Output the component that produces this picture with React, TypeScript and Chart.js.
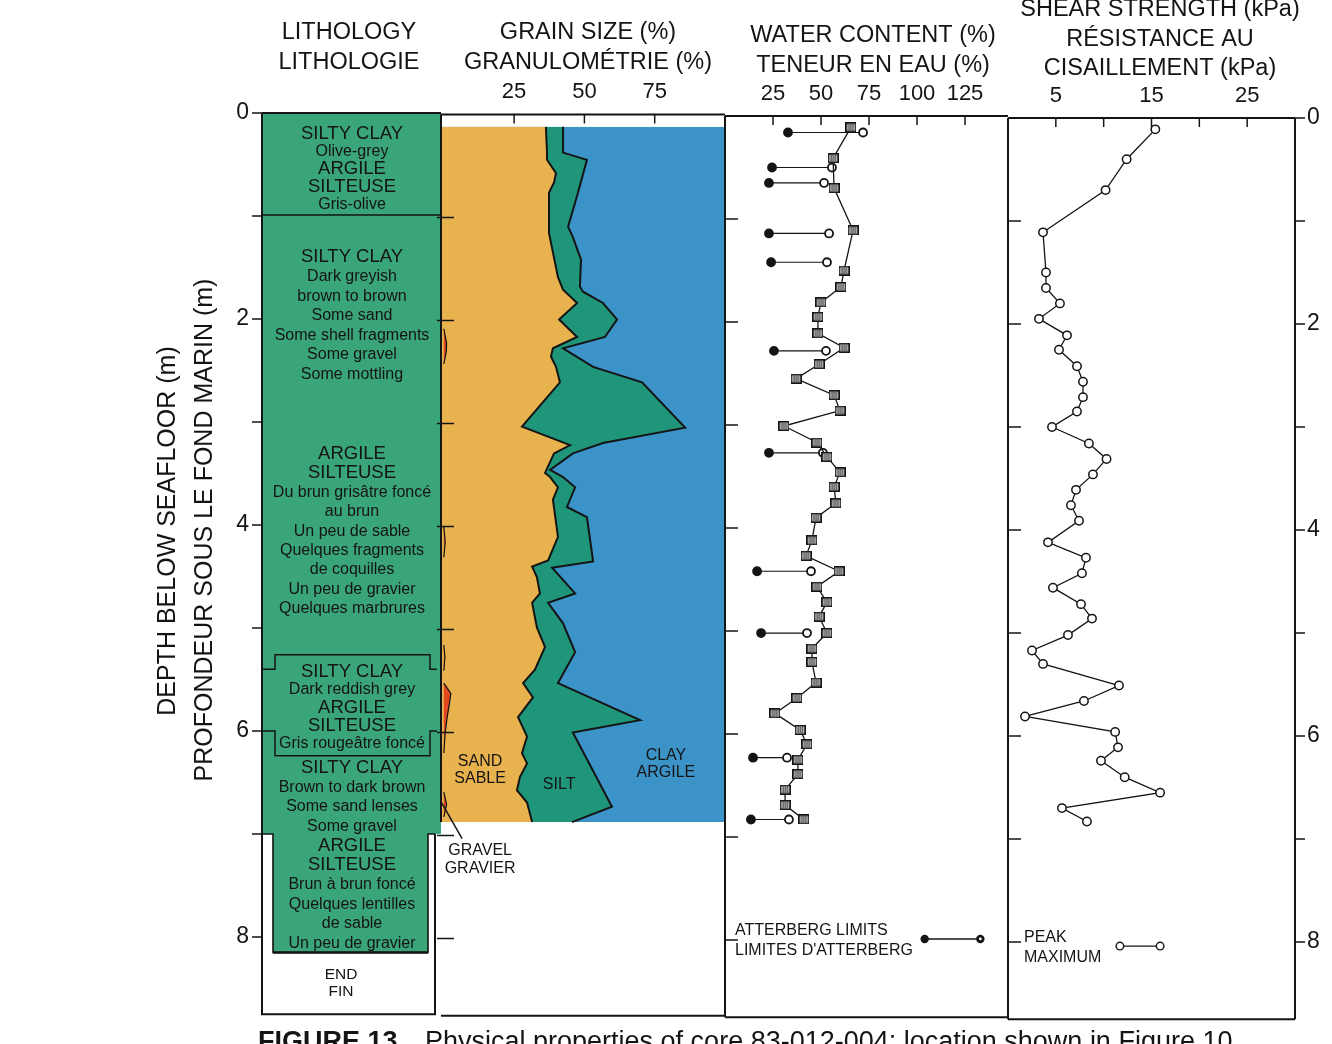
import React, { useEffect, useRef } from 'react';
import { Chart, registerables } from 'chart.js';

Chart.register(...registerables);

const W = 1332;
const H = 1044;
const FONT = '"Liberation Sans", Arial, Helvetica, sans-serif';
const INK = '#141414';

// ---------- depth axis ----------
const DEPTH_MAX = 8.75;
const depthTicks = [0, 1, 2, 3, 4, 5, 6, 7, 8];
const depthLabels = [0, 2, 4, 6, 8];
const depthTitle = ['DEPTH BELOW SEAFLOOR (m)', 'PROFONDEUR SOUS LE FOND MARIN (m)'];

// ---------- lithology ----------
const lithoHeader = ['LITHOLOGY', 'LITHOLOGIE'];
const unitBoundaries = [0.99];
const reddishUnit = { top: 5.26, notchTop: 5.4, notchBase: 6.0, base: 6.24 };
const narrowTop = 7.0;
const coreBase = 8.15;
const lithoLines = [
  ['SILTY CLAY', 'Olive-grey', 'ARGILE', 'SILTEUSE', 'Gris-olive'],
  ['SILTY CLAY', 'Dark greyish', 'brown to brown', 'Some sand', 'Some shell fragments', 'Some gravel', 'Some mottling'],
  ['ARGILE', 'SILTEUSE', 'Du brun grisâtre foncé', 'au brun', 'Un peu de sable', 'Quelques fragments', 'de coquilles', 'Un peu de gravier', 'Quelques marbrures'],
  ['SILTY CLAY', 'Dark reddish grey', 'ARGILE', 'SILTEUSE', 'Gris rougeâtre foncé'],
  ['SILTY CLAY', 'Brown to dark brown', 'Some sand lenses', 'Some gravel', 'ARGILE', 'SILTEUSE', 'Brun à brun foncé', 'Quelques lentilles', 'de sable', 'Un peu de gravier'],
];
const endLabel = ['END', 'FIN'];
const caption = ['FIGURE 13', 'Physical properties of core 83-012-004; location shown in Figure 10'];

// ---------- grain size (cumulative %, from the left) ----------
const grainHeader = ['GRAIN SIZE (%)', 'GRANULOMÉTRIE (%)'];
const grainTicks = [25, 50, 75];
const gravelDepth = [0.12, 2.08, 2.22, 2.3, 2.42, 4.0, 4.15, 4.3, 5.15, 5.27, 5.4, 5.52, 5.62, 5.72, 5.85, 6.0, 6.2, 6.58, 6.7, 6.82, 6.87];
const gravelPct = [0, 0, 1.0, 0.9, 0, 0, 0.5, 0, 0, 0.4, 0, 0, 2.5, 2.0, 1.2, 0.5, 0, 0, 1.0, 0, 0];
const sandDepth = [0.12, 0.37, 0.44, 0.57, 0.66, 0.76, 1.15, 1.58, 1.7, 1.83, 1.99, 2.16, 2.27, 2.35, 2.45, 2.6, 3.03, 3.21, 3.29, 3.48, 3.52, 3.62, 3.74, 4.1, 4.33, 4.39, 4.49, 4.65, 4.74, 4.98, 5.17, 5.39, 5.52, 5.66, 5.85, 6.04, 6.2, 6.3, 6.43, 6.56, 6.68, 6.87];
const sandPct = [36.3, 36.7, 36.7, 39.9, 39.2, 37.4, 37.4, 40.6, 42.4, 47.4, 41.0, 47.4, 38.8, 38.1, 39.9, 41.3, 27.8, 44.9, 39.2, 36.0, 37.8, 40.6, 38.8, 40.6, 37.1, 31.4, 33.1, 34.2, 31.4, 33.1, 36.0, 32.4, 28.2, 31.7, 26.4, 29.6, 27.8, 29.6, 27.1, 26.0, 29.6, 31.4];
const siltDepth = [0.12, 0.37, 0.44, 0.76, 1.09, 1.19, 1.41, 1.67, 1.72, 1.83, 1.99, 2.16, 2.27, 2.45, 2.6, 3.04, 3.19, 3.29, 3.45, 3.52, 3.62, 3.81, 3.91, 4.34, 4.4, 4.65, 4.74, 4.94, 5.22, 5.52, 5.88, 6.0, 6.72, 6.87];
const siltPct = [42.4, 42.4, 50.9, 47.7, 44.2, 45.9, 48.8, 48.4, 49.5, 56.6, 61.6, 57.3, 42.4, 53.1, 70.5, 85.8, 56.6, 45.9, 37.8, 42.4, 46.7, 43.8, 50.9, 53.1, 38.5, 46.7, 37.1, 42.4, 46.7, 40.6, 69.8, 45.9, 59.8, 45.6];
const clayDepth = [0.12, 6.87];
const clayPct = [100, 100];
const grainLabels = [
  { lines: ['SAND', 'SABLE'], pct: 12.9, depth: 6.28 },
  { lines: ['SILT'], pct: 41.0, depth: 6.51 },
  { lines: ['CLAY', 'ARGILE'], pct: 79.0, depth: 6.22 },
  { lines: ['GRAVEL', 'GRAVIER'], pct: 12.9, depth: 7.15 },
];

// ---------- water content (%) ----------
const waterHeader = ['WATER CONTENT (%)', 'TENEUR EN EAU (%)'];
const waterTicks = [25, 50, 75, 100, 125];
const wcDepth = [0.11, 0.41, 0.7, 1.11, 1.5, 1.66, 1.81, 1.95, 2.11, 2.25, 2.41, 2.55, 2.71, 2.86, 3.01, 3.17, 3.31, 3.46, 3.6, 3.76, 3.9, 4.12, 4.27, 4.42, 4.57, 4.72, 4.86, 5.02, 5.17, 5.3, 5.5, 5.65, 5.8, 5.96, 6.1, 6.25, 6.39, 6.54, 6.69, 6.83];
const wcValue = [65.6, 56.3, 56.8, 66.7, 62.0, 60.4, 50.0, 48.4, 48.4, 62.0, 49.0, 37.0, 56.8, 59.9, 30.7, 47.9, 53.1, 59.9, 56.8, 57.8, 47.4, 45.3, 42.2, 59.4, 47.9, 53.1, 49.0, 53.1, 45.3, 45.3, 47.4, 37.5, 26.0, 39.1, 42.7, 38.0, 38.0, 31.3, 31.3, 41.1];
const atterDepth = [0.16, 0.5, 0.65, 1.14, 1.42, 2.28, 3.27, 4.42, 5.02, 6.23, 6.83];
const plasticLimit = [32.8, 24.5, 22.9, 22.9, 24.0, 25.5, 22.9, 16.7, 18.8, 14.6, 13.5];
const liquidLimit = [71.9, 55.7, 51.6, 54.2, 53.1, 52.6, 51.0, 44.8, 42.7, 32.3, 33.3];
const waterLegend = ['ATTERBERG LIMITS', "LIMITES D'ATTERBERG"];

// ---------- shear strength (kPa) ----------
const shearHeader = ['SHEAR STRENGTH (kPa)', 'RÉSISTANCE AU', 'CISAILLEMENT (kPa)'];
const shearTicks = [5, 10, 15, 20, 25];
const shearTickLabels = [5, 15, 25];
const shearDepth = [0.11, 0.4, 0.7, 1.11, 1.5, 1.65, 1.8, 1.95, 2.11, 2.25, 2.41, 2.56, 2.71, 2.85, 3.0, 3.16, 3.31, 3.46, 3.61, 3.76, 3.91, 4.12, 4.27, 4.42, 4.56, 4.72, 4.86, 5.02, 5.17, 5.3, 5.51, 5.66, 5.81, 5.96, 6.11, 6.24, 6.4, 6.55, 6.7, 6.83];
const shearPeak = [15.4, 12.4, 10.2, 3.66, 3.97, 3.97, 5.43, 3.24, 6.17, 5.33, 7.21, 7.84, 7.84, 7.21, 4.6, 8.46, 10.3, 8.88, 7.11, 6.58, 7.42, 4.18, 8.15, 7.73, 4.7, 7.63, 8.78, 6.27, 2.51, 3.66, 11.6, 7.94, 1.78, 11.2, 11.5, 9.72, 12.2, 15.9, 5.64, 8.25];
const shearLegend = ['PEAK', 'MAXIMUM'];

// ---------- colours ----------
const LITHO_GREEN = '#3ba57a';
const GRAVEL_RED = '#e2471f';
const SAND_YELLOW = '#e8b24e';
const SILT_GREEN = '#1f957a';
const CLAY_BLUE = '#3b93c8';

// ---------- panel geometry ----------
const PX_PER_M = 103;
type Area = { left: number; right: number; top: number; bottom: number };
const panel = (left: number, right: number, top: number): Area => ({ left, right, top, bottom: top + DEPTH_MAX * PX_PER_M });
const LITHO = panel(262, 441, 113);
const GRAIN = panel(441, 725, 114.5);
const WATER = panel(725, 1008, 116);
const SHEAR = panel(1008, 1295, 118);

const pts = (values: number[], depths: number[]) => depths.map((d, i) => ({ x: values[i], y: d }));
const ctxOf = (chart: any) => chart.ctx as CanvasRenderingContext2D;

function stroke(ctx: CanvasRenderingContext2D, path: number[][], w = 1.6) {
  ctx.save();
  ctx.strokeStyle = INK;
  ctx.lineWidth = w;
  ctx.lineJoin = 'miter';
  ctx.beginPath();
  path.forEach(([x, y], i) => (i ? ctx.lineTo(x, y) : ctx.moveTo(x, y)));
  ctx.stroke();
  ctx.restore();
}

function text(
  ctx: CanvasRenderingContext2D,
  s: string,
  x: number,
  y: number,
  size: number,
  align: CanvasTextAlign = 'center',
  weight = 'normal',
  baseline: CanvasTextBaseline = 'middle'
) {
  ctx.save();
  ctx.font = `${weight} ${size}px ${FONT}`;
  ctx.fillStyle = INK;
  ctx.textAlign = align;
  ctx.textBaseline = baseline;
  ctx.fillText(s, x, y);
  ctx.restore();
}

function header(ctx: CanvasRenderingContext2D, lines: string[], cx: number, y0: number) {
  lines.forEach((s, i) => text(ctx, s, cx, y0 + i * 29.5, 23.5));
}

function frame(ctx: CanvasRenderingContext2D, a: Area) {
  stroke(ctx, [[a.left, a.top], [a.right, a.top]], 2);
  stroke(ctx, [[a.left, a.bottom], [a.right, a.bottom]], 2);
}

// value ticks along the top edge, pointing into the panel
function topTicks(chart: any, ticks: number[], labels: number[], labelY: number) {
  const { chartArea } = chart;
  const c = ctxOf(chart);
  const xs = chart.scales.x;
  ticks.forEach((t) => {
    const x = xs.getPixelForValue(t);
    stroke(c, [[x, chartArea.top], [x, chartArea.top + 9]], 1.5);
  });
  labels.forEach((t) => text(c, String(t), xs.getPixelForValue(t), labelY, 22));
}

// depth ticks on a panel's left edge
function sideTicks(chart: any, x0: number, x1: number) {
  const ys = chart.scales.y;
  depthTicks.slice(1).forEach((d) => {
    const y = ys.getPixelForValue(d);
    stroke(ctxOf(chart), [[x0, y], [x1, y]], 1.5);
  });
}

function baseOptions(a: Area, xMin: number, xMax: number) {
  return {
    responsive: false,
    maintainAspectRatio: false,
    animation: false as const,
    events: [] as any[],
    indexAxis: 'y' as const,
    layout: { padding: { left: a.left, right: W - a.right, top: a.top, bottom: H - a.bottom } },
    plugins: { legend: { display: false }, tooltip: { enabled: false } },
    scales: {
      x: { type: 'linear' as const, display: false, min: xMin, max: xMax },
      y: { type: 'linear' as const, display: false, min: 0, max: DEPTH_MAX, reverse: true },
    },
  };
}

// ---------- lithology column ----------
const lithoPlugin = {
  id: 'lithology',
  afterDraw(chart: any) {
    const c = ctxOf(chart);
    const ys = chart.scales.y;
    const Y = (d: number) => ys.getPixelForValue(d);
    const { left: L, right: R, bottom: B } = chart.chartArea;
    const frameR = 435;
    const inL = 273;
    const inR = 428;
    const notchL = 275;
    const notchR = 430;

    c.save();
    c.fillStyle = LITHO_GREEN;
    c.fillRect(L, Y(0), R - L, Y(narrowTop) - Y(0));
    c.fillRect(inL, Y(narrowTop), inR - inL, Y(coreBase) - Y(narrowTop));
    c.restore();

    // outer frame
    stroke(c, [[L, Y(0)], [L, B], [frameR, B], [frameR, Y(narrowTop)]], 2);
    stroke(c, [[L, Y(0)], [R, Y(0)]], 2);
    // narrowed lower part
    stroke(c, [[L, Y(narrowTop)], [inL, Y(narrowTop)], [inL, Y(coreBase)], [inR, Y(coreBase)], [inR, Y(narrowTop)], [frameR, Y(narrowTop)]], 1.6);
    stroke(c, [[inL, Y(coreBase)], [inR, Y(coreBase)]], 2.4);
    unitBoundaries.forEach((d) => stroke(c, [[L, Y(d)], [R, Y(d)]], 1.6));
    // reddish unit brackets
    const u = reddishUnit;
    stroke(c, [[L, Y(u.notchTop)], [notchL, Y(u.notchTop)], [notchL, Y(u.top)], [notchR, Y(u.top)], [notchR, Y(u.notchTop)], [R - 4, Y(u.notchTop)]], 1.5);
    stroke(c, [[L, Y(u.notchBase)], [notchL, Y(u.notchBase)], [notchL, Y(u.base)], [notchR, Y(u.base)], [notchR, Y(u.notchBase)], [R - 4, Y(u.notchBase)]], 1.5);

    // description text, spread evenly over each block
    const spans = [[0.2, 0.89], [1.4, 2.54], [3.31, 4.81], [5.43, 6.12], [6.36, 8.06]];
    const cx = 352;
    lithoLines.forEach((lines, gi) => {
      const [d0, d1] = spans[gi];
      const y0 = Y(d0);
      const pitch = lines.length > 1 ? (Y(d1) - y0) / (lines.length - 1) : 0;
      lines.forEach((s, i) => {
        const caps = s === s.toUpperCase();
        text(c, s, cx, y0 + i * pitch, caps ? 18.5 : 16);
      });
    });
    text(c, endLabel[0], 341, Y(8.37), 15.5);
    text(c, endLabel[1], 341, Y(8.53), 15.5);

    // depth axis (left)
    depthTicks.forEach((d) => stroke(c, [[252, Y(d)], [L, Y(d)]], 1.5));
    depthLabels.forEach((d) => text(c, String(d), 249, Y(d), 23, 'right'));
    c.save();
    c.translate(168, 531);
    c.rotate(-Math.PI / 2);
    text(c, depthTitle[0], 0, 0, 25);
    c.restore();
    c.save();
    c.translate(205, 530);
    c.rotate(-Math.PI / 2);
    text(c, depthTitle[1], 0, 0, 25);
    c.restore();

    header(c, lithoHeader, 349, 33);

    text(c, caption[0], 258, 1050, 27, 'left', 'bold', 'alphabetic');
    text(c, caption[1], 425, 1050, 27, 'left', 'normal', 'alphabetic');
  },
};

// ---------- grain size ----------
const grainPlugin = {
  id: 'grainFrame',
  afterDraw(chart: any) {
    const c = ctxOf(chart);
    const xs = chart.scales.x;
    const ys = chart.scales.y;
    const { left: L, top: T } = chart.chartArea;
    frame(c, GRAIN);
    stroke(c, [[L, T], [L, ys.getPixelForValue(clayDepth[1])]], 2);
    topTicks(chart, grainTicks, grainTicks, 92);
    sideTicks(chart, 437, 454);
    grainLabels.forEach((g) => {
      g.lines.forEach((s, i) => text(c, s, xs.getPixelForValue(g.pct), ys.getPixelForValue(g.depth) + i * 17.5, 16));
    });
    // pointer from the lowest gravel lens to its label
    stroke(c, [[xs.getPixelForValue(-0.8), ys.getPixelForValue(6.68)], [xs.getPixelForValue(6.5), ys.getPixelForValue(7.03)]], 1.5);
    header(c, grainHeader, 588, 33);
  },
};

// ---------- water content ----------
function squareMarker() {
  const cv = document.createElement('canvas');
  cv.width = 11;
  cv.height = 10;
  const g = cv.getContext('2d')!;
  g.fillStyle = '#cfcfcf';
  g.fillRect(1, 1, 9, 8);
  g.strokeStyle = '#333';
  g.lineWidth = 1;
  [3.5, 5.5, 7.5].forEach((x) => {
    g.beginPath();
    g.moveTo(x, 1.5);
    g.lineTo(x, 8.5);
    g.stroke();
  });
  g.strokeStyle = INK;
  g.lineWidth = 1.5;
  g.strokeRect(0.75, 0.75, 9.5, 8.5);
  return cv;
}

const waterPlugin = {
  id: 'waterFrame',
  afterDraw(chart: any) {
    const c = ctxOf(chart);
    const xs = chart.scales.x;
    const ys = chart.scales.y;
    const { left: L, top: T, bottom: B } = chart.chartArea;
    frame(c, WATER);
    stroke(c, [[L, T], [L, B]], 2);
    topTicks(chart, waterTicks, waterTicks, 94);
    sideTicks(chart, L, L + 13);
    // legend
    text(c, waterLegend[0], 735, ys.getPixelForValue(7.91), 16, 'left');
    text(c, waterLegend[1], 735, ys.getPixelForValue(8.1), 16, 'left');
    const ly = ys.getPixelForValue(7.99);
    const x1 = xs.getPixelForValue(104);
    const x2 = xs.getPixelForValue(133);
    stroke(c, [[x1, ly], [x2, ly]], 1.4);
    c.save();
    c.fillStyle = INK;
    [x1, x2].forEach((x) => {
      c.beginPath();
      c.arc(x, ly, 4.2, 0, Math.PI * 2);
      c.fill();
    });
    c.fillStyle = '#fff';
    c.beginPath();
    c.arc(x2, ly, 1.4, 0, Math.PI * 2);
    c.fill();
    c.restore();
    header(c, waterHeader, 873, 36);
  },
};

// ---------- shear strength ----------
const shearPlugin = {
  id: 'shearFrame',
  afterDraw(chart: any) {
    const c = ctxOf(chart);
    const xs = chart.scales.x;
    const ys = chart.scales.y;
    const { left: L, right: R, top: T, bottom: B } = chart.chartArea;
    frame(c, SHEAR);
    stroke(c, [[L, T], [L, B]], 2);
    stroke(c, [[R, T], [R, B]], 2);
    topTicks(chart, shearTicks, shearTickLabels, 96);
    sideTicks(chart, L, L + 13);
    depthTicks.forEach((d) => stroke(c, [[R, ys.getPixelForValue(d)], [R + 10, ys.getPixelForValue(d)]], 1.5));
    depthLabels.forEach((d) => text(c, String(d), R + 12, ys.getPixelForValue(d), 23, 'left'));
    // legend
    text(c, shearLegend[0], 1024, ys.getPixelForValue(7.96), 16, 'left');
    text(c, shearLegend[1], 1024, ys.getPixelForValue(8.15), 16, 'left');
    const ly = ys.getPixelForValue(8.04);
    const x1 = xs.getPixelForValue(11.7);
    const x2 = xs.getPixelForValue(15.9);
    stroke(c, [[x1 + 4, ly], [x2 - 4, ly]], 1.3);
    c.save();
    c.strokeStyle = INK;
    c.lineWidth = 1.4;
    c.fillStyle = '#fff';
    [x1, x2].forEach((x) => {
      c.beginPath();
      c.arc(x, ly, 3.8, 0, Math.PI * 2);
      c.fill();
      c.stroke();
    });
    c.restore();
    header(c, shearHeader, 1160, 10);
  },
};

function makeConfig(kind: string): any {
  if (kind === 'litho') {
    return { type: 'line', data: { datasets: [] }, options: baseOptions(LITHO, 0, 1), plugins: [lithoPlugin] };
  }
  if (kind === 'grain') {
    const common = { indexAxis: 'y', pointRadius: 0, tension: 0 };
    return {
      type: 'line',
      data: {
        datasets: [
          {
            ...common,
            label: 'Gravel',
            data: pts(gravelPct, gravelDepth),
            backgroundColor: GRAVEL_RED,
            borderWidth: 1.2,
            borderColor: INK,
            segment: {
              borderColor: (s: any) => (s.p0.parsed.x === 0 && s.p1.parsed.x === 0 ? 'rgba(0,0,0,0)' : INK),
            },
            fill: 'origin',
          },
          { ...common, label: 'Sand', data: pts(sandPct, sandDepth), backgroundColor: SAND_YELLOW, borderColor: INK, borderWidth: 2, fill: { value: -1 } },
          { ...common, label: 'Silt', data: pts(siltPct, siltDepth), backgroundColor: SILT_GREEN, borderColor: INK, borderWidth: 2, fill: { value: -1 } },
          { ...common, label: 'Clay', data: pts(clayPct, clayDepth), backgroundColor: CLAY_BLUE, borderWidth: 0, fill: { value: -1 } },
        ],
      },
      options: baseOptions(GRAIN, -1, 100),
      plugins: [grainPlugin],
    };
  }
  if (kind === 'water') {
    const atterData = atterDepth.flatMap((d, i) => [
      { x: plasticLimit[i], y: d },
      { x: liquidLimit[i], y: d },
      { x: null, y: d },
    ]);
    return {
      type: 'line',
      data: {
        datasets: [
          {
            indexAxis: 'y',
            label: 'Water content',
            data: pts(wcValue, wcDepth),
            borderColor: INK,
            borderWidth: 1.3,
            pointStyle: squareMarker(),
            fill: false,
          },
          {
            indexAxis: 'y',
            label: 'Atterberg limits',
            data: atterData,
            borderColor: INK,
            borderWidth: 1.2,
            spanGaps: false,
            pointStyle: 'circle',
            pointRadius: (p: any) => (p.dataIndex % 3 === 2 ? 0 : 4),
            pointBorderWidth: 1.8,
            pointBorderColor: INK,
            pointBackgroundColor: (p: any) => (p.dataIndex % 3 === 0 ? INK : '#ffffff'),
            fill: false,
          },
        ],
      },
      options: baseOptions(WATER, 0, 147.4),
      plugins: [waterPlugin],
    };
  }
  return {
    type: 'line',
    data: {
      datasets: [
        {
          indexAxis: 'y',
          label: 'Peak shear strength',
          data: pts(shearPeak, shearDepth),
          borderColor: INK,
          borderWidth: 1.3,
          pointStyle: 'circle',
          pointRadius: 4.2,
          pointBorderWidth: 1.5,
          pointBorderColor: INK,
          pointBackgroundColor: '#ffffff',
          fill: false,
        },
      ],
    },
    options: baseOptions(SHEAR, 0, 30),
    plugins: [shearPlugin],
  };
}

function PanelCanvas({ kind }: { kind: string }) {
  const ref = useRef<HTMLCanvasElement>(null);
  useEffect(() => {
    if (!ref.current) return;
    const chart = new Chart(ref.current, makeConfig(kind));
    return () => chart.destroy();
  }, [kind]);
  return <canvas ref={ref} width={W} height={H} style={{ position: 'absolute', left: 0, top: 0, width: W, height: H }} />;
}

export default function App() {
  return (
    <div style={{ position: 'absolute', left: 0, top: 0, width: W, height: H, overflow: 'hidden', background: '#ffffff' }}>
      <PanelCanvas kind="litho" />
      <PanelCanvas kind="grain" />
      <PanelCanvas kind="water" />
      <PanelCanvas kind="shear" />
    </div>
  );
}
